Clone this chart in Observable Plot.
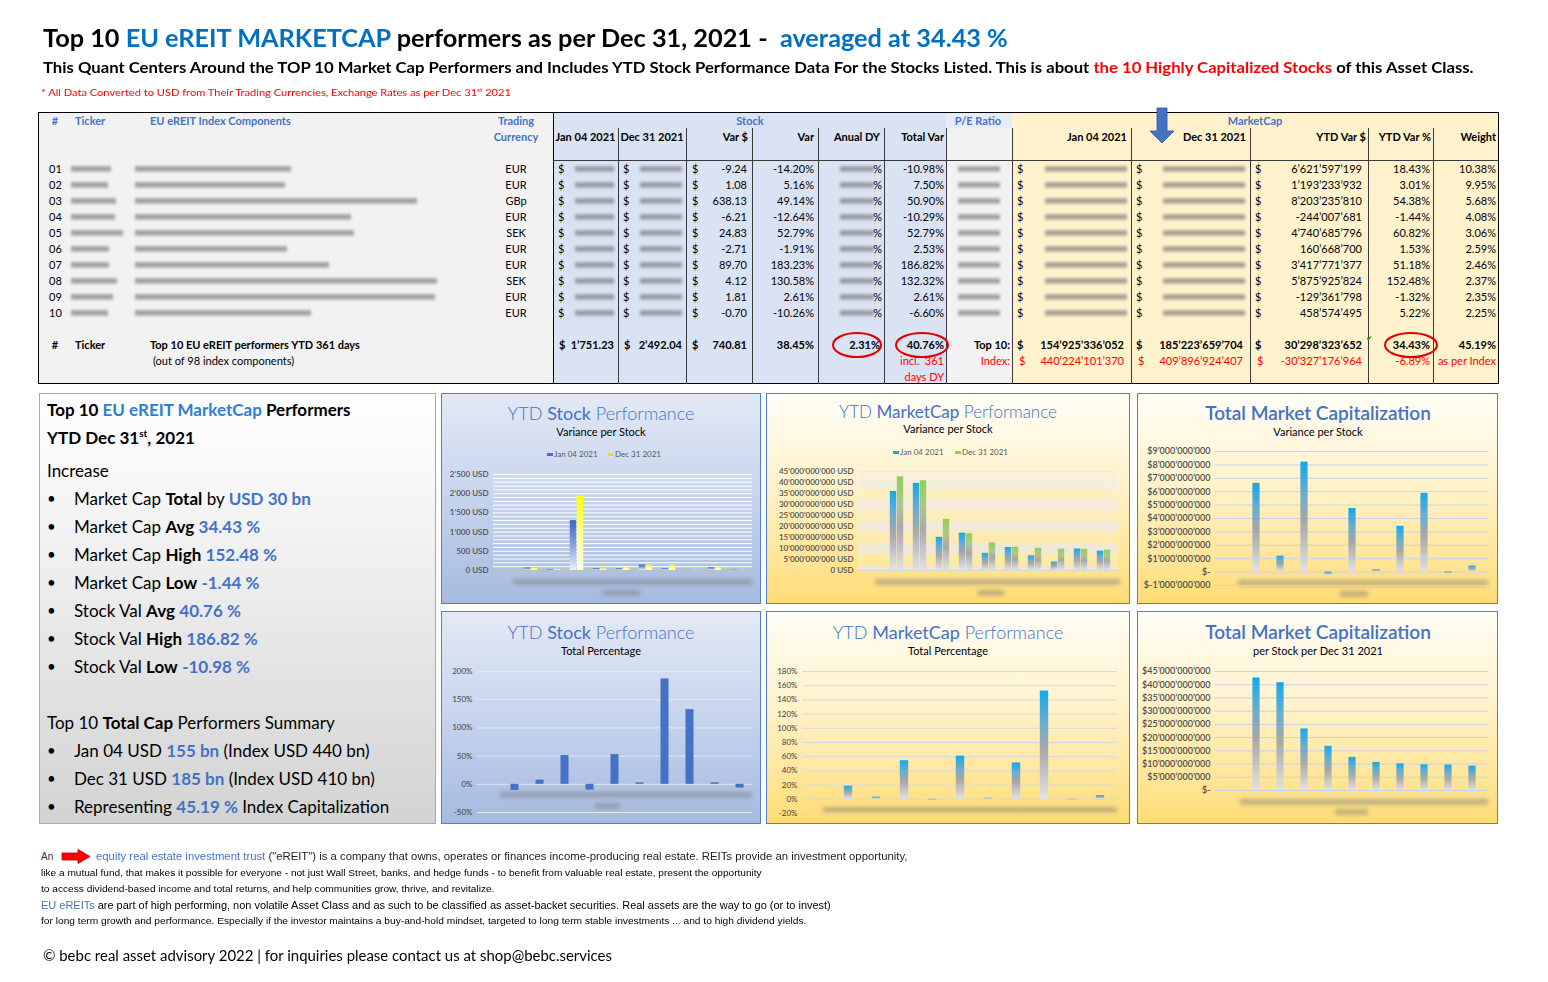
<!DOCTYPE html>
<html><head><meta charset="utf-8">
<script src="https://cdn.jsdelivr.net/npm/d3@7"></script>
<script src="https://cdn.jsdelivr.net/npm/@observablehq/plot@0.6"></script>
<style>
body{margin:0;background:#fff;}
#page{position:relative;width:1548px;height:982px;overflow:hidden;font-family:Lato,"Noto Sans",sans-serif;color:#000;background:#fff;}
.abs{position:absolute;white-space:nowrap;}
.blur{position:absolute;background:linear-gradient(#8a8a8a,#5e5e5e,#9a9a9a);filter:blur(1.4px);opacity:.6;}
</style></head>
<body><div id="page"></div>
<svg width="0" height="0" style="position:absolute">
<defs>
<linearGradient id="gSJan" x1="0" y1="0" x2="0" y2="1"><stop offset="0" stop-color="#3b68c0"/><stop offset="0.5" stop-color="#87a3da"/><stop offset="1" stop-color="#eef2fb"/></linearGradient>
<linearGradient id="gSDec" x1="0" y1="0" x2="0" y2="1"><stop offset="0" stop-color="#ffff00"/><stop offset="0.5" stop-color="#ffff8a"/><stop offset="1" stop-color="#fffdf0"/></linearGradient>
<linearGradient id="gCyan" x1="0" y1="0" x2="0" y2="1"><stop offset="0" stop-color="#12a9ec"/><stop offset="0.3" stop-color="#6aaed0"/><stop offset="0.55" stop-color="#a8a8a8"/><stop offset="1" stop-color="#e2e2e2"/></linearGradient>
<linearGradient id="gGreen" x1="0" y1="0" x2="0" y2="1"><stop offset="0" stop-color="#92d050"/><stop offset="0.3" stop-color="#adc68f"/><stop offset="0.55" stop-color="#a8a8a8"/><stop offset="1" stop-color="#e2e2e2"/></linearGradient>
</defs></svg>
<script>
// ---------------- DATA ----------------
const ids = ["01","02","03","04","05","06","07","08","09","10"];
const currencies = ["EUR","EUR","GBp","EUR","SEK","EUR","EUR","SEK","EUR","EUR"];
const stockJan = [65.07, 20.93, 1298.60, 49.13, 47.04, 141.88, 48.96, 3.16, 69.35, 6.82];
const stockDec = [55.83, 22.01, 1936.73, 42.92, 71.87, 139.17, 138.66, 7.28, 71.16, 6.12];
const stockVarUsd = [-9.24, 1.08, 638.13, -6.21, 24.83, -2.71, 89.70, 4.12, 1.81, -0.70];
const stockVarPct = [-14.20, 5.16, 49.14, -12.64, 52.79, -1.91, 183.23, 130.58, 2.61, -10.26];
const totalVarPct = [-10.98, 7.50, 50.90, -10.29, 52.79, 2.53, 186.82, 132.32, 2.61, -6.60];
const mcapJan = [35.93e9, 39.60e9, 15.08e9, 16.96e9, 7.80e9, 10.46e9, 6.66e9, 3.83e9, 9.76e9, 8.76e9];
const mcapDec = [42.55e9, 40.79e9, 23.28e9, 16.72e9, 12.54e9, 10.62e9, 10.08e9, 9.71e9, 9.63e9, 9.22e9];
const mcapVarUsd = [6621597199, 1193233932, 8203235810, -244007681, 4740685796, 160668700, 3417771377, 5875925824, -129361798, 458574495];
const mcapVarPct = [18.43, 3.01, 54.38, -1.44, 60.82, 1.53, 51.18, 152.48, -1.32, 5.22];
const weights = [10.38, 9.95, 5.68, 4.08, 3.06, 2.59, 2.46, 2.37, 2.35, 2.25];

const stockTotals = {jan: "1’751.23", dec: "2’492.04", varUsd: "740.81", varPct: "38.45%", dy: "2.31%", total: "40.76%"};
const mcapTotals = {jan: "154’925’336’052", dec: "185’223’659’704", varUsd: "30’298’323’652", varPct: "34.43%", weight: "45.19%"};
const indexTotals = {jan: "440’224’101’370", dec: "409’896’924’407", varUsd: "-30’327’176’964", varPct: "-6.89%"};

const ticksStockUsd = [0, 500, 1000, 1500, 2000, 2500];
const ticksMcap = [0, 5e9, 10e9, 15e9, 20e9, 25e9, 30e9, 35e9, 40e9, 45e9];
const ticksMcapVar = [-1e9, 0, 1e9, 2e9, 3e9, 4e9, 5e9, 6e9, 7e9, 8e9, 9e9];
const ticksStockPct = [-50, 0, 50, 100, 150, 200];
const ticksMcapPct = [-20, 0, 20, 40, 60, 80, 100, 120, 140, 160, 180];

// decoration only: lengths of the redacted (blurred) name cells
const redactTicker = [40, 37, 45, 44, 52, 38, 38, 46, 42, 37];
const redactName = [156, 150, 282, 216, 219, 152, 194, 302, 300, 176];

// ---------------- HELPERS ----------------
const page = document.getElementById("page");
const loc = d3.formatLocale({decimal: ".", thousands: "’", grouping: [3], currency: ["$", ""], minus: "-"});
const fInt = loc.format(",d");
const pct = v => v.toFixed(2) + "%";

function el(css, html) {
  const e = document.createElement("div");
  e.className = "abs";
  Object.assign(e.style, css);
  if (html != null) e.innerHTML = html;
  page.appendChild(e);
  return e;
}
function T(x, y, html, o = {}) {
  const size = o.size || 11;
  const lh = Math.round(size * 1.25);
  const css = {fontSize: size + "px", lineHeight: lh + "px", top: (y - lh / 2) + "px",
    fontWeight: o.weight || 400, color: o.color || "#000"};
  if (o.family) css.fontFamily = o.family;
  if (o.align === "right") css.right = (1548 - x) + "px";
  else if (o.align === "center") { css.left = (x - 300) + "px"; css.width = "600px"; css.textAlign = "center"; }
  else css.left = x + "px";
  return el(css, html);
}
function box(x, y, w, h, css) { return el(Object.assign({left: x + "px", top: y + "px", width: w + "px", height: h + "px", boxSizing: "border-box"}, css)); }
function blur(x, y, w, h = 6) { const b = box(x, y - h / 2, w, h, {}); b.className = "blur"; return b; }
function fit(e, w) { e.style.transformOrigin = "left center"; e.style.transform = "none"; const sw = e.scrollWidth; if (sw > 0) e.style.transform = `scaleX(${w / sw})`; }

// ---------------- HEADER ----------------
const BLUE = "#0070c0", HB = "#4472c4", RED = "#ff0000";
const t1 = T(43, 37, `Top 10 <span style="color:${BLUE}">EU eREIT MARKETCAP</span> performers as per Dec 31, 2021 -&nbsp; <span style="color:${BLUE}">averaged at 34.43 %</span>`, {size: 25, weight: 700});
const t2 = T(43, 67, `This Quant Centers Around the TOP 10 Market Cap Performers and Includes YTD Stock Performance Data For the Stocks Listed. This is about <span style="color:${RED}">the 10 Highly Capitalized Stocks</span> of this Asset Class.`, {size: 15, weight: 700});
const t3 = T(41, 89, `* All Data Converted to USD from Their Trading Currencies, Exchange Rates as per Dec 31<sup style="font-size:6px">st</sup> 2021`, {size: 10, color: RED});

// ---------------- TABLE ----------------
box(38, 112, 515, 272, {background: "#f2f2f2"});
box(553, 112, 393, 272, {background: "#dae3f3"});
box(946, 112, 66, 272, {background: "#f2f2f2"});
box(946, 112, 66, 16, {background: "#e6ecf7"});
box(1012, 112, 487, 272, {background: "#fff2cc"});
box(38, 112, 1461, 272, {border: "1px solid #000"});
box(553, 112, 1, 272, {background: "#000"});
[618, 686, 752, 818, 884, 946, 1012, 1131, 1250, 1368, 1433].forEach(x => box(x, 128, 1, 256, {background: "#3a3a3a"}));
box(553, 160, 946, 1, {background: "#3a3a3a"});

// group headers
T(55, 121, "#", {weight: 700, color: HB, align: "center"});
T(75, 121, "Ticker", {weight: 700, color: HB});
T(150, 121, "EU eREIT Index Components", {weight: 700, color: HB});
T(516, 121, "Trading", {weight: 700, color: HB, align: "center"});
T(516, 137, "Currency", {weight: 700, color: HB, align: "center"});
T(750, 121, "Stock", {weight: 700, color: HB, align: "center"});
T(978, 121, "P/E Ratio", {weight: 700, color: HB, align: "center"});
T(1255, 121, "MarketCap", {weight: 700, color: HB, align: "center"});
// column headers
T(585.5, 137, "Jan 04 2021", {weight: 700, align: "center"});
T(652, 137, "Dec 31 2021", {weight: 700, align: "center"});
T(748, 137, "Var $", {weight: 700, align: "right"});
T(814, 137, "Var", {weight: 700, align: "right"});
T(880, 137, "Anual DY", {weight: 700, align: "right"});
T(944, 137, "Total Var", {weight: 700, align: "right"});
T(1127, 137, "Jan 04 2021", {weight: 700, align: "right"});
T(1246, 137, "Dec 31 2021", {weight: 700, align: "right"});
T(1366, 137, "YTD Var $", {weight: 700, align: "right"});
T(1431, 137, "YTD Var %", {weight: 700, align: "right"});
T(1496, 137, "Weight", {weight: 700, align: "right"});

ids.forEach((id, i) => {
  const y = 169 + 16 * i;
  T(49, y, id);
  blur(71, y, redactTicker[i]);
  blur(135, y, redactName[i]);
  T(516, y, currencies[i], {align: "center"});
  T(558, y, "$"); blur(575, y, 39);
  T(623, y, "$"); blur(640, y, 42);
  T(692, y, "$"); T(747, y, stockVarUsd[i].toFixed(2), {align: "right"});
  T(814, y, pct(stockVarPct[i]), {align: "right"});
  blur(840, y, 34); T(882, y, "%", {align: "right"});
  T(944, y, pct(totalVarPct[i]), {align: "right"});
  blur(958, y, 42);
  T(1017, y, "$"); blur(1045, y, 82);
  T(1136, y, "$"); blur(1163, y, 82);
  T(1255, y, "$"); T(1362, y, fInt(mcapVarUsd[i]), {align: "right"});
  T(1430, y, pct(mcapVarPct[i]), {align: "right"});
  T(1496, y, pct(weights[i]), {align: "right"});
});
// totals
const yT = 345;
T(55, yT, "#", {weight: 700, align: "center"});
T(75, yT, "Ticker", {weight: 700});
T(150, yT, "Top 10 EU eREIT performers YTD 361 days", {weight: 700});
T(153, 361, "(out of 98 index components)");
T(559, yT, "$", {weight: 700}); T(614, yT, stockTotals.jan, {weight: 700, align: "right"});
T(624, yT, "$", {weight: 700}); T(682, yT, stockTotals.dec, {weight: 700, align: "right"});
T(692, yT, "$", {weight: 700}); T(747, yT, stockTotals.varUsd, {weight: 700, align: "right"});
T(814, yT, stockTotals.varPct, {weight: 700, align: "right"});
T(880, yT, stockTotals.dy, {weight: 700, align: "right"});
T(944, yT, stockTotals.total, {weight: 700, align: "right"});
T(944, 361, "incl.&nbsp; 361", {color: RED, align: "right"});
T(944, 377, "days DY", {color: RED, align: "right"});
T(1010, yT, "Top 10:", {weight: 700, align: "right"});
T(1010, 361, "Index:", {color: RED, align: "right"});
T(1017, yT, "$", {weight: 700}); T(1124, yT, mcapTotals.jan, {weight: 700, align: "right"});
T(1136, yT, "$", {weight: 700}); T(1243, yT, mcapTotals.dec, {weight: 700, align: "right"});
T(1255, yT, "$", {weight: 700}); T(1362, yT, mcapTotals.varUsd, {weight: 700, align: "right"});
T(1430, yT, mcapTotals.varPct, {weight: 700, align: "right"});
T(1496, yT, mcapTotals.weight, {weight: 700, align: "right"});
T(1019, 361, "$", {color: RED}); T(1124, 361, indexTotals.jan, {color: RED, align: "right"});
T(1138, 361, "$", {color: RED}); T(1243, 361, indexTotals.dec, {color: RED, align: "right"});
T(1257, 361, "$", {color: RED}); T(1362, 361, indexTotals.varUsd, {color: RED, align: "right"});
T(1430, 361, indexTotals.varPct, {color: RED, align: "right"});
T(1496, 361, "as per Index", {color: RED, align: "right"});

// ---------------- LEFT PANEL ----------------
box(39, 393, 397, 431, {border: "1px solid #8faadc", background: "linear-gradient(to bottom,#ffffff 0%,#f1f1f1 35%,#d3d3d3 100%)"});
const LB = "#2f7fd3", VB = "#4472c4";
T(47, 409, `Top 10 <span style="color:${LB}">EU eREIT MarketCap</span> Performers`, {size: 17, weight: 700});
T(47, 433, `YTD Dec 31<sup style="font-size:10px">st</sup>, 2021`, {size: 17, weight: 700});
T(47, 470, "Increase", {size: 17});
const V = s => `<b style="color:${VB}">${s}</b>`;
const bullets1 = [
  `Market Cap <b>Total</b> by ${V("USD 30 bn")}`,
  `Market Cap <b>Avg</b> ${V("34.43 %")}`,
  `Market Cap <b>High</b> ${V("152.48 %")}`,
  `Market Cap <b>Low</b> ${V("-1.44 %")}`,
  `Stock Val <b>Avg</b> ${V("40.76 %")}`,
  `Stock Val <b>High</b> ${V("186.82 %")}`,
  `Stock Val <b>Low</b> ${V("-10.98 %")}`];
bullets1.forEach((s, i) => { const y = 498 + 28 * i; T(47, y, "•", {size: 15}); T(74, y, s, {size: 17}); });
T(47, 722, `Top 10 <b>Total Cap</b> Performers Summary`, {size: 17});
const bullets2 = [
  `Jan 04 USD ${V("155 bn")} (Index USD 440 bn)`,
  `Dec 31 USD ${V("185 bn")} (Index USD 410 bn)`,
  `Representing ${V("45.19 %")} Index Capitalization`];
bullets2.forEach((s, i) => { const y = 750 + 28 * i; T(47, y, "•", {size: 15}); T(74, y, s, {size: 17}); });

// ---------------- CHART PANELS ----------------
const bgBlue = "linear-gradient(to bottom,#e3e9f5 0%,#c9d6ee 45%,#a6badf 100%)";
const bgYellow = "linear-gradient(to bottom,#fffdf6 0%,#fff4cf 40%,#ffe597 80%,#ffdc74 100%)";
const panels = [
  {x: 441, y: 393, w: 320, h: 211, bg: bgBlue},
  {x: 766, y: 393, w: 364, h: 211, bg: bgYellow},
  {x: 1137, y: 393, w: 361, h: 211, bg: bgYellow},
  {x: 441, y: 611, w: 320, h: 213, bg: bgBlue},
  {x: 766, y: 611, w: 364, h: 213, bg: bgYellow},
  {x: 1137, y: 611, w: 361, h: 213, bg: bgYellow}];
panels.forEach(p => box(p.x, p.y, p.w, p.h, {border: "1px solid #4f7fd0", background: p.bg}));

const CT = "#4472c4";
function ctitle(cx, y, html, size = 18) { return T(cx, y, html, {size, color: CT, align: "center", weight: 300}); }
ctitle(601, 413, `YTD <b>Stock</b> Performance`);
ctitle(948, 411, `YTD <b>MarketCap</b> Performance`, 17);
ctitle(1318, 413, `<span style="font-weight:600">Total Market Capitalization</span>`, 19);
ctitle(601, 632, `YTD <b>Stock</b> Performance`);
ctitle(948, 632, `YTD <b>MarketCap</b> Performance`);
ctitle(1318, 632, `<span style="font-weight:600">Total Market Capitalization</span>`, 19);
T(601, 432, "Variance per Stock", {size: 11, align: "center"});
T(948, 429, "Variance per Stock", {size: 11, align: "center"});
T(1318, 432, "Variance per Stock", {size: 11, align: "center"});
T(601, 651, "Total Percentage", {size: 11, align: "center"});
T(948, 651, "Total Percentage", {size: 11, align: "center"});
T(1318, 651, "per Stock per Dec 31 2021", {size: 11, align: "center"});

// legends
function legend(x, y, items) {
  let cx = x;
  items.forEach(([c, label, w]) => {
    box(cx, y - 1.5, 6, 3, {background: c});
    T(cx + 7, y, label, {size: 8, color: "#595959"});
    cx += w;
  });
}
legend(547, 454, [["#4472c4", "Jan 04 2021", 61], ["#e6e600", "Dec 31 2021", 0]]);
legend(893, 452, [["#1aa7e6", "Jan 04 2021", 62], ["#92d050", "Dec 31 2021", 0]]);

// redacted x-axis labels (decoration)
[[513, 582, 239], [603, 593, 37], [875, 582, 245], [978, 593, 26], [1238, 583, 250], [1340, 594, 28],
 [500, 795, 252], [595, 806, 25], [823, 810, 294], [1240, 802, 248], [1335, 812, 33]].forEach(([x, y, w]) => {
  const b = blur(x, y, w, 6); b.style.opacity = .45; b.style.filter = "blur(2px)"; b.style.zIndex = 1;
});

// ---------------- PLOTS ----------------
const slots = [" ", ...ids];
const rows = ids.map((id, i) => ({id, sJan: stockJan[i], sDec: stockDec[i], tv: totalVarPct[i],
  mJan: mcapJan[i], mDec: mcapDec[i], mVar: mcapVarUsd[i], mPct: mcapVarPct[i]}));

function chart(o) {
  const svg = Plot.plot({
    width: o.w, height: o.h, marginLeft: o.mL, marginRight: o.mR, marginTop: o.mT, marginBottom: o.mB,
    style: {background: "transparent", fontFamily: "Lato, sans-serif", fontSize: (o.fs || 8) + "px",
      color: o.tc || "#404040", fontWeight: o.fw || 400, overflow: "visible"},
    x: {domain: slots, padding: 0, axis: null},
    y: {domain: o.domain, ticks: o.ticks, tickFormat: o.fmt, tickSize: 0, tickPadding: o.tp || 5, label: null},
    marks: [Plot.ruleY(o.grid, {stroke: o.gs, strokeWidth: 1}), ...o.marks]
  });
  svg.style.position = "absolute"; svg.style.left = o.x + "px"; svg.style.top = o.y + "px"; svg.style.zIndex = 2;
  page.appendChild(svg);
  return svg;
}
const usd = v => loc.format(",d")(v) + " USD";
const dollars = v => v === 0 ? "$-" : "$" + loc.format(",d")(v);

// 1 YTD Stock Performance - variance per stock
chart({x: 441, y: 460, w: 320, h: 135, mL: 52, mR: 9, mT: 14, mB: 25, domain: [0, 2500], ticks: ticksStockUsd,
  fmt: usd, fw: 600, tc: "#4d4d4d", grid: d3.range(100, 2501, 100), gs: "#ffffff",
  marks: [
    Plot.ruleY([0], {stroke: "#bfbfbf"}),
    Plot.barY(rows, {x: "id", y: "sJan", fill: "url(#gSJan)", insetLeft: 4.75, insetRight: 11.75}),
    Plot.barY(rows, {x: "id", y: "sDec", fill: "url(#gSDec)", insetLeft: 11.75, insetRight: 4.75})]});

// 2 YTD MarketCap Performance - variance per stock
chart({x: 766, y: 460, w: 364, h: 130, mL: 92, mR: 12, mT: 11, mB: 20, domain: [0, 45e9], ticks: ticksMcap,
  fmt: usd, fw: 600, tc: "#4d4d4d", grid: d3.range(1e9, 45.1e9, 1e9), gs: "#efece4",
  marks: [
    Plot.ruleY([0], {stroke: "#d9d9d9"}),
    Plot.barY(rows, {x: "id", y: "mJan", fill: "url(#gCyan)", insetLeft: 4.8, insetRight: 11.8}),
    Plot.barY(rows, {x: "id", y: "mDec", fill: "url(#gGreen)", insetLeft: 11.8, insetRight: 4.8})]});

// 3 Total Market Capitalization - variance per stock
chart({x: 1137, y: 440, w: 361, h: 155, mL: 78, mR: 10, mT: 11, mB: 10, domain: [-1e9, 9e9], ticks: ticksMcapVar,
  fmt: dollars, fs: 9, fw: 600, tc: "#4d4d4d", grid: ticksMcapVar, gs: "#c9d3e6",
  marks: [Plot.barY(rows, {x: "id", y: "mVar", fill: "url(#gCyan)", insetLeft: 8.4, insetRight: 8.4})]});

// 4 YTD Stock Performance - total percentage
chart({x: 441, y: 660, w: 320, h: 160, mL: 36, mR: 9, mT: 11, mB: 8, domain: [-50, 200], ticks: ticksStockPct,
  fmt: v => v + "%", tc: "#404040", grid: ticksStockPct, gs: "#e3e9f4",
  marks: [Plot.barY(rows, {x: "id", y: "tv", fill: "#4472c4", insetLeft: 8.5, insetRight: 8.5})]});

// 5 YTD MarketCap Performance - total percentage
chart({x: 766, y: 660, w: 364, h: 160, mL: 36, mR: 13, mT: 11, mB: 7, domain: [-20, 180], ticks: ticksMcapPct,
  fmt: v => v + "%", tc: "#404040", grid: ticksMcapPct, gs: "#d3d9e6",
  marks: [Plot.barY(rows, {x: "id", y: "mPct", fill: "url(#gCyan)", insetLeft: 9.8, insetRight: 9.8})]});

// 6 Total Market Capitalization - per stock Dec 31
chart({x: 1137, y: 660, w: 361, h: 140, mL: 78, mR: 10, mT: 11, mB: 10, domain: [0, 45e9], ticks: ticksMcap,
  fmt: dollars, fs: 9, fw: 600, tc: "#4d4d4d", grid: ticksMcap, gs: "#c9d3e6",
  marks: [Plot.barY(rows, {x: "id", y: "mDec", fill: "url(#gCyan)", insetLeft: 8.4, insetRight: 8.4})]});

// ---------------- OVERLAY (ellipses, arrows) ----------------
const ov = d3.select(page).append("svg").attr("width", 1548).attr("height", 982)
  .style("position", "absolute").style("left", 0).style("top", 0).style("z-index", 5).style("pointer-events", "none");
[[857, 345, 24], [922, 345, 26], [1411, 345, 26]].forEach(([cx, cy, rx]) =>
  ov.append("ellipse").attr("cx", cx).attr("cy", cy).attr("rx", rx).attr("ry", 12).attr("fill", "none").attr("stroke", "#e00000").attr("stroke-width", 2));
ov.append("polygon").attr("points", "1157,108 1167,108 1167,131 1174,131 1162,143 1150,131 1157,131").attr("fill", "#4472c4").attr("stroke", "#2f5597").attr("stroke-width", 0.8);
ov.append("polygon").attr("points", "1367,338 1372,336 1368,341").attr("fill", "#1a8f1a");
ov.append("polygon").attr("points", "62,853 78,853 78,849.5 90,856.5 78,863.5 78,860 62,860").attr("fill", "#ff0000").attr("stroke", "#b00000").attr("stroke-width", 0.8);

// ---------------- FOOTER TEXT ----------------
const NF = "'Liberation Sans Narrow','Liberation Sans',Arial,sans-serif";
T(41, 856, "An", {size: 10, family: NF, color: "#333"});
const f1 = T(96, 856, `<span style="color:#4472c4">equity real estate investment trust</span> ("eREIT") is a company that owns, operates or finances income-producing real estate. REITs provide an investment opportunity,`, {size: 11, family: NF, color: "#222"});
const f2 = T(41, 873, "like a mutual fund, that makes it possible for everyone - not just Wall Street, banks, and hedge funds - to benefit from valuable real estate, present the opportunity", {size: 9.5, family: NF});
const f3 = T(41, 889, "to access dividend-based income and total returns, and help communities grow, thrive, and revitalize.", {size: 9.5, family: NF});
const f4 = T(41, 905, `<span style="color:#4472c4">EU eREITs</span> are part of high performing, non volatile Asset Class and as such to be classified as asset-backet securities. Real assets are the way to go (or to invest)`, {size: 11, family: NF});
const f5 = T(41, 921, "for long term growth and performance. Especially if the investor maintains a buy-and-hold mindset, targeted to long term stable investments ... and to high dividend yields.", {size: 9.5, family: NF});
const f6 = T(43, 956, "© bebc real asset advisory 2022 | for inquiries please contact us at shop@bebc.services", {size: 14.5});

function doFit() {
  fit(t1, 965); fit(t2, 1430); fit(t3, 470);
  fit(f1, 811); fit(f2, 721); fit(f3, 454); fit(f4, 790); fit(f5, 765); fit(f6, 569);
}
doFit();
if (document.fonts && document.fonts.ready) document.fonts.ready.then(doFit);
</script></body></html>
